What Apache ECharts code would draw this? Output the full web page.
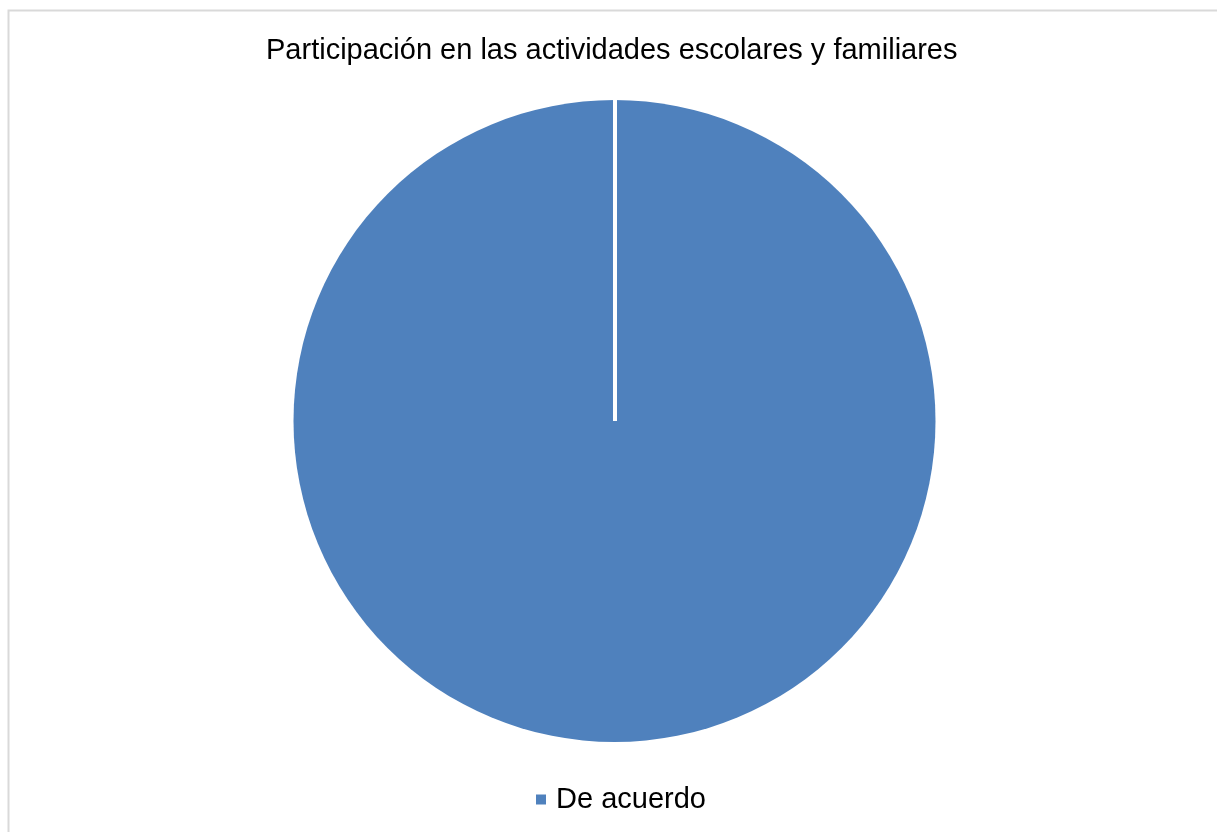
<!DOCTYPE html>
<html>
<head>
<meta charset="utf-8">
<script src="https://cdn.jsdelivr.net/npm/echarts@6/dist/echarts.min.js"></script>
<style>html,body{margin:0;padding:0;background:#fff}#c{width:1217px;height:832px}</style>
</head>
<body>
<div id="c"></div>
<script>
const titleText = 'Participación en las actividades escolares y familiares';
const categories = ['De acuerdo'];
const values = [100];
const colors = ['#4F81BD'];

const CX = 614.5, CY = 421, R = 321;
const chart = echarts.init(document.getElementById('c'), null, {renderer: 'canvas'});
chart.setOption({
  animation: false,
  backgroundColor: '#fff',
  title: {
    text: titleText, left: 266, top: 36, padding: 0,
    textStyle: {fontFamily: 'Liberation Sans, Arial', fontSize: 29, fontWeight: 'normal', color: '#000'}
  },
  legend: {
    data: categories, bottom: 18, left: 536, padding: 0,
    itemWidth: 10, itemHeight: 10, itemGap: 10, icon: 'rect',
    textStyle: {fontFamily: 'Liberation Sans, Arial', fontSize: 29, color: '#000', padding: [0,0,0,5]}
  },
  graphic: [
    {type: 'rect', shape: {x: 8.5, y: 10.5, width: 1400, height: 1000}, style: {fill: 'none', stroke: '#d9d9d9', lineWidth: 2}, z: 0, silent: true},
    {type: 'line', shape: {x1: CX + 0.5, y1: CY - R - 1, x2: CX + 0.5, y2: CY}, style: {stroke: '#fff', lineWidth: 4}, z: 100, silent: true}
  ],
  series: [{
    type: 'pie', center: [CX, CY], radius: R, startAngle: 90, clockwise: true,
    label: {show: false}, labelLine: {show: false},
    color: colors,
    itemStyle: {borderColor: '#fff', borderWidth: 0},
    data: categories.map((c, i) => ({name: c, value: values[i]}))
  }]
});
</script>
</body>
</html>
